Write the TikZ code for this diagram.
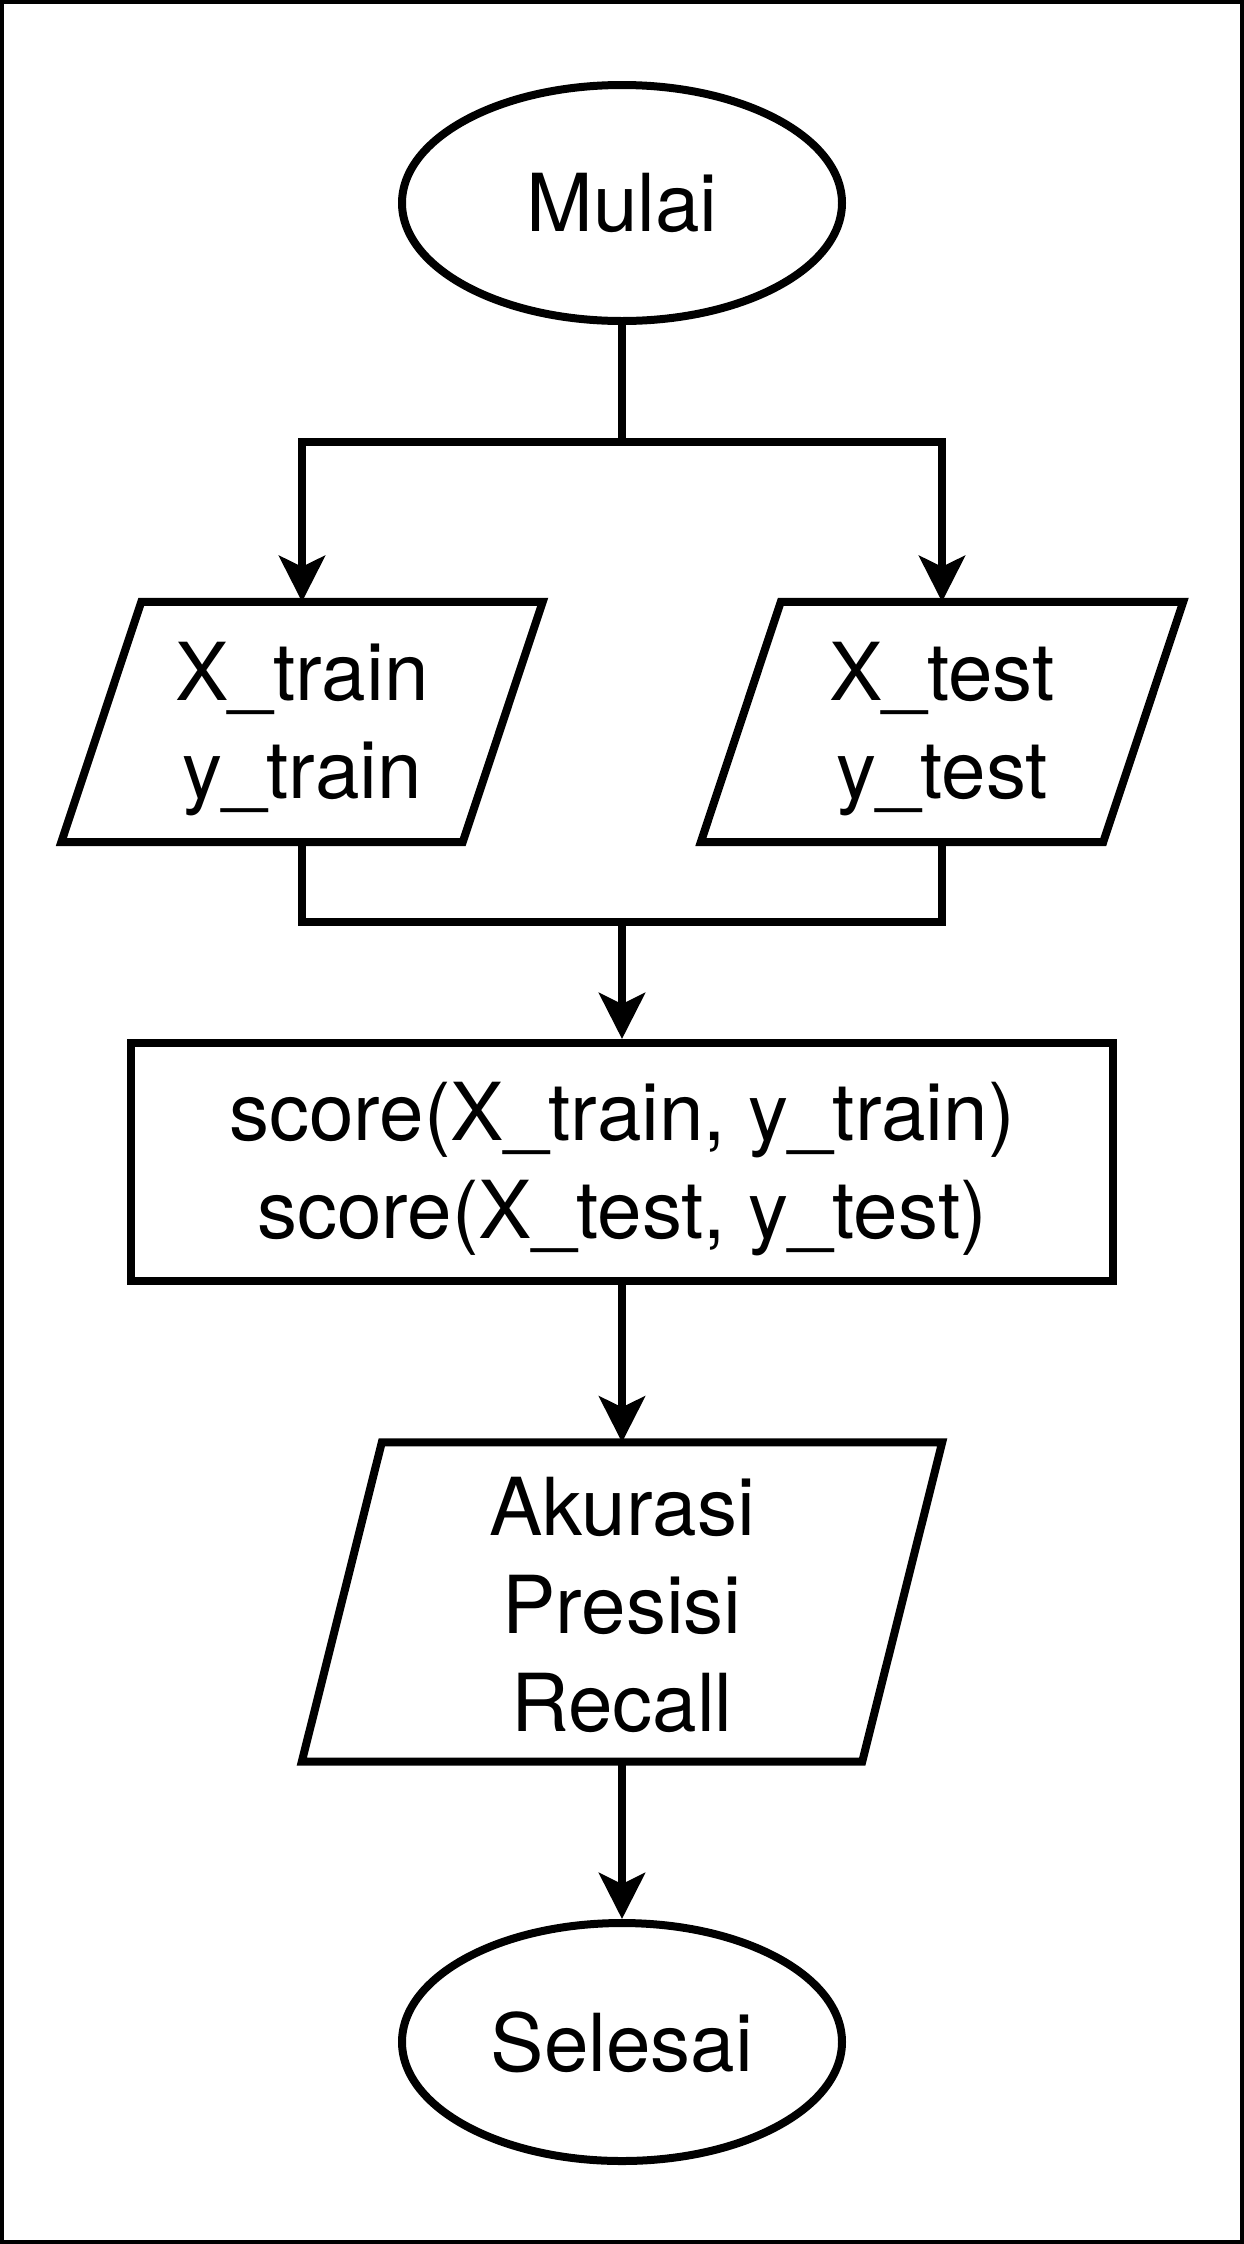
\documentclass[tikz,border=0pt]{standalone}
\usepackage{fontspec}
\setmainfont{TeX Gyre Heros}
\usetikzlibrary{arrows.meta,shapes.geometric}
\newcommand\topstrut[1]{\rule{0pt}{#1}}
\tikzset{
  lbl/.style={font=\fontsize{80}{98}\selectfont, align=center, inner sep=0pt},
  terminal/.style={lbl, ellipse, draw, line width=8pt, minimum width=440pt, minimum height=236pt},
  iobox/.style={lbl, rectangle, draw=none, minimum height=240pt},
  procbox/.style={lbl, rectangle, draw, line width=8pt, minimum width=982pt, minimum height=238pt},
  para/.style={line width=8pt, line join=miter},
  conn/.style={line width=8pt},
  arr/.style={conn, -{Stealth[length=46pt, width=46pt, inset=11pt]}},
}
\begin{document}
\begin{tikzpicture}[x=1pt, y=-1pt]
  \useasboundingbox (0,0) rectangle (1244,2244);
  \draw[line width=4pt] (2,2) rectangle (1242,2242);

  \node[terminal] (start) at (622,203) {Mulai};
  \node[iobox, minimum width=401pt] (ptrain) at (302,722) {\topstrut{73pt}X\_train\\y\_train};
  \node[iobox, minimum width=402pt] (ptest) at (942,722) {\topstrut{73pt}X\_test\\y\_test};
  \node[procbox] (score) at (622,1162) {\topstrut{73pt}score(X\_train, y\_train)\\score(X\_test, y\_test)};
  \node[iobox, minimum width=560pt, minimum height=319pt] (metrics) at (622,1602) {\topstrut{65pt}Akurasi\\Presisi\\Recall};
  \node[terminal, minimum height=238pt] (end) at (622,2042) {Selesai};

  \foreach \n in {ptrain,ptest,metrics}
    \draw[para] ([xshift=40pt]\n.north west) -- ([xshift=40pt]\n.north east)
      -- ([xshift=-40pt]\n.south east) -- ([xshift=-40pt]\n.south west) -- cycle;

  \coordinate (split) at (622,442);
  \coordinate (merge) at (622,922);

  \draw[conn] (start.south) -- (split);
  \draw[arr] (split) -| (ptrain.north);
  \draw[arr] (split) -| (ptest.north);
  \draw[conn] (ptrain.south) |- (merge) -| (ptest.south);
  \draw[arr] (merge) -- (score.north);
  \draw[arr] (score.south) -- (metrics.north);
  \draw[arr] (metrics.south) -- (end.north);
\end{tikzpicture}
\end{document}
